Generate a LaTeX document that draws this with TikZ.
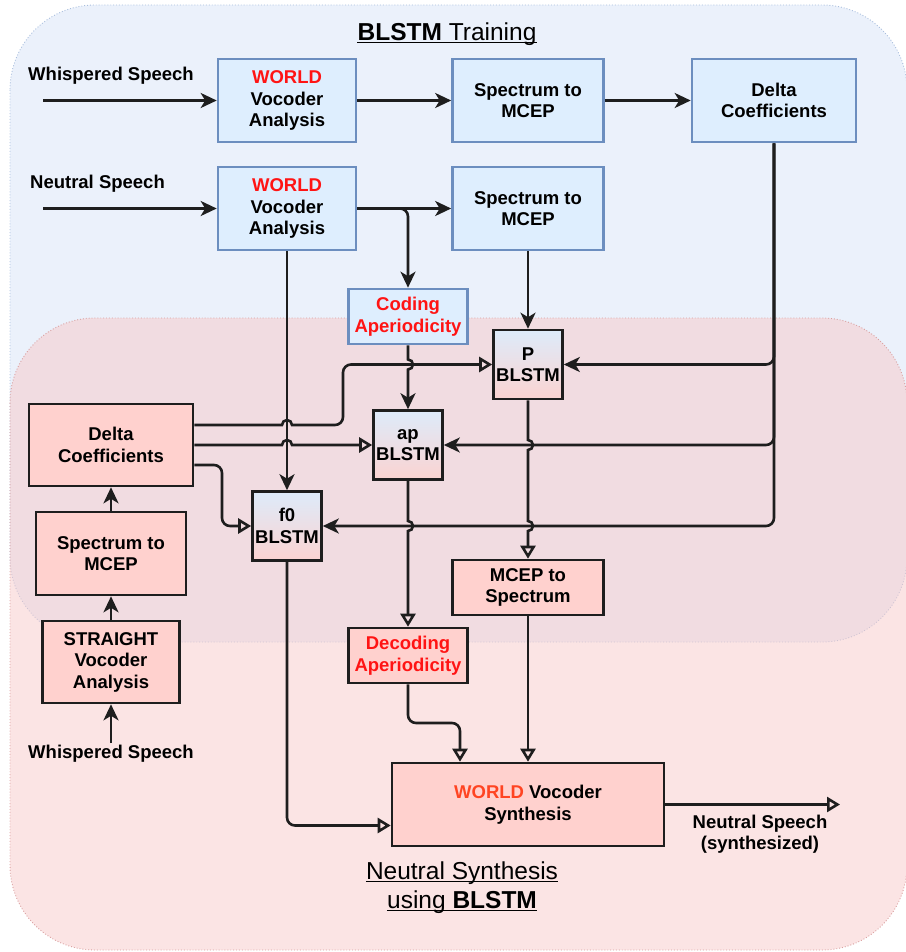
\documentclass[tikz,border=0pt]{standalone}
\usepackage{fontspec}
\setmainfont{Liberation Sans}
\usetikzlibrary{arrows.meta}
\definecolor{regblue}{HTML}{EBF1FB}
\definecolor{regblueline}{HTML}{A9BEDD}
\definecolor{regpink}{RGB}{247,201,201}
\definecolor{regpinkline}{HTML}{D9A0A0}
\definecolor{boxblue}{HTML}{DEEEFE}
\definecolor{boxblueline}{HTML}{6C8EBF}
\definecolor{boxpink}{HTML}{FFD1CE}
\definecolor{boxline}{HTML}{1E1E1E}
\definecolor{worldred}{HTML}{FF1414}
\definecolor{synthred}{HTML}{FF4422}
\definecolor{gradtop}{HTML}{DDEBFA}
\definecolor{gradbot}{HTML}{FBD3D1}
\tikzset{
 boxfont/.style={font=\bfseries\fontsize{18.5}{21.5}\selectfont},
 basebox/.style={boxfont, align=center, inner sep=0pt, line width=2.6pt},
 bluebox/.style={basebox, draw=boxblueline, fill=boxblue},
 pinkbox/.style={basebox, draw=boxline, fill=boxpink},
 nnbox/.style={basebox, draw=boxline, top color=gradtop, bottom color=gradbot, minimum width=69pt, minimum height=69pt},
 conn/.style={line width=2.6pt, draw=boxline},
 farrow/.style={conn, -{Stealth[length=16pt,width=15pt,inset=4.5pt]}},
 oarrow/.style={conn, -{Triangle[open,length=13pt,width=15pt]}},
 lbl/.style={boxfont, inner sep=0pt},
 titletext/.style={font=\fontsize{24.5}{29}\selectfont, inner sep=0pt},
 region/.style={rounded corners=85pt, dotted, line width=0.9pt},
}
\begin{document}
\begin{tikzpicture}[x=1pt,y=-1pt]
\useasboundingbox (0,0) rectangle (905,952);
% regions
\path[region, fill=regblue, draw=regblueline] (10,5) rectangle (907,642);
\path[region, fill=regpink, fill opacity=0.5, draw=regpinkline] (10,318) rectangle (907,950);

% titles
\node[titletext, anchor=base] (t1) at (447,41) {\textbf{BLSTM} Training};
\draw[line width=1.3pt] ([yshift=-1.8pt]t1.base west) -- ([yshift=-1.8pt]t1.base east);
\node[titletext, anchor=base] (t2) at (462,879) {Neutral Synthesis};
\draw[line width=1.3pt] ([yshift=-2.5pt]t2.base west) -- ([yshift=-2.5pt]t2.base east);
\node[titletext, anchor=base] (t3) at (462,908) {using \textbf{BLSTM}};
\draw[line width=1.3pt] ([yshift=-2.5pt]t3.base west) -- ([yshift=-2.5pt]t3.base east);

% blue boxes
\node[bluebox, minimum width=138pt, minimum height=83pt] (w1) at (287,100.5) {\textcolor{worldred}{WORLD}\\Vocoder\\Analysis};
\node[bluebox, minimum width=138pt, minimum height=83pt] (w2) at (287,208.5) {\textcolor{worldred}{WORLD}\\Vocoder\\Analysis};
\node[bluebox, minimum width=151pt, minimum height=83pt] (s1) at (528,100.5) {Spectrum to\\MCEP};
\node[bluebox, minimum width=151pt, minimum height=83pt] (s2) at (528,208.5) {Spectrum to\\MCEP};
\node[bluebox, minimum width=164pt, minimum height=83pt] (db) at (774,100.5) {Delta\\Coefficients};
\node[bluebox, text=worldred, minimum width=119pt, minimum height=55pt] (ca) at (408,316.5) {Coding\\Aperiodicity};

% BLSTM boxes
\node[nnbox] (pb) at (528,364.5) {P\\BLSTM};
\node[nnbox] (apb) at (408,445) {ap\\BLSTM};
\node[nnbox] (f0b) at (287,526) {f0\\BLSTM};

% pink boxes
\node[pinkbox, minimum width=164pt, minimum height=82pt] (dp) at (111,445) {Delta\\Coefficients};
\node[pinkbox, minimum width=150pt, minimum height=83pt] (sp) at (111,553.5) {Spectrum to\\MCEP};
\node[pinkbox, minimum width=137pt, minimum height=82pt] (st) at (111,662) {STRAIGHT\\Vocoder\\Analysis};
\node[pinkbox, minimum width=151pt, minimum height=55pt] (ms) at (528,587.5) {MCEP to\\Spectrum};
\node[pinkbox, text=worldred, minimum width=119pt, minimum height=55pt] (da) at (408,655.5) {Decoding\\Aperiodicity};
\node[pinkbox, minimum width=272pt, minimum height=83pt] (ws) at (528,804.5) {\textcolor{synthred}{WORLD} Vocoder\\Synthesis};

% labels
\node[lbl, anchor=base] (lw1) at (111,81) {Whispered Speech};
\node[lbl, anchor=base] (ln1) at (97.5,189) {Neutral Speech};
\node[lbl, anchor=base] (lw2) at (111,758) {Whispered Speech};
\node[lbl, align=center] (lout) at (760,834) {Neutral Speech\\(synthesized)};

% free ends
\coordinate (win1) at (43,100.5);
\coordinate (nin) at (43,208.5);
\coordinate (win2) at (111,743);
\coordinate (nout) at (840,804.5);

% training connectors
\draw[farrow] (win1) -- (w1);
\draw[farrow] (w1) -- (s1);
\draw[farrow] (s1) -- (db);
\draw[farrow] (nin) -- (w2);
\draw[farrow] (w2) -- (s2);
\draw[farrow, rounded corners=8pt] (w2.east) -| (ca.north);
\draw[farrow] (w2.south) -- (f0b.north);
\draw[farrow] (s2) -- (pb);
\draw[farrow] (ca.south) -- (408,359.5) arc[start angle=90,end angle=-90,radius=5pt] -- (apb.north);
\draw[farrow, rounded corners=8pt] (db.south) |- (pb.east);
\draw[farrow, rounded corners=8pt] (db.south) |- (apb.east);
\draw[farrow, rounded corners=8pt] (db.south) |- (f0b.east);

% synthesis connectors
\draw[farrow] (win2) -- (st);
\draw[farrow] (st) -- (sp);
\draw[farrow] (sp) -- (dp);
\draw[oarrow] ([yshift=20pt]dp.east) -- (282,425) arc[start angle=180,end angle=0,radius=5pt] -- (300,425) [rounded corners=8pt] -- (343,425) |- (pb.west);
\draw[oarrow] (dp.east) -- (282,445) arc[start angle=180,end angle=0,radius=5pt] -- (apb.west);
\draw[oarrow, rounded corners=8pt] ([yshift=-20pt]dp.east) -- (222,465) |- (f0b.west);
\draw[oarrow] (pb.south) -- (528,440) arc[start angle=90,end angle=-90,radius=5pt] -- (528,521) arc[start angle=90,end angle=-90,radius=5pt] -- (ms.north);
\draw[oarrow] (apb.south) -- (408,521) arc[start angle=90,end angle=-90,radius=5pt] -- (da.north);
\draw[oarrow, rounded corners=8pt] (f0b.south) |- ([yshift=-21pt]ws.west);
\draw[oarrow, rounded corners=8pt] (da.south) -- (408,723) -| ([xshift=-68pt]ws.north);
\draw[oarrow] (ms) -- (ws);
\draw[oarrow] (ws) -- (nout);
\end{tikzpicture}
\end{document}
